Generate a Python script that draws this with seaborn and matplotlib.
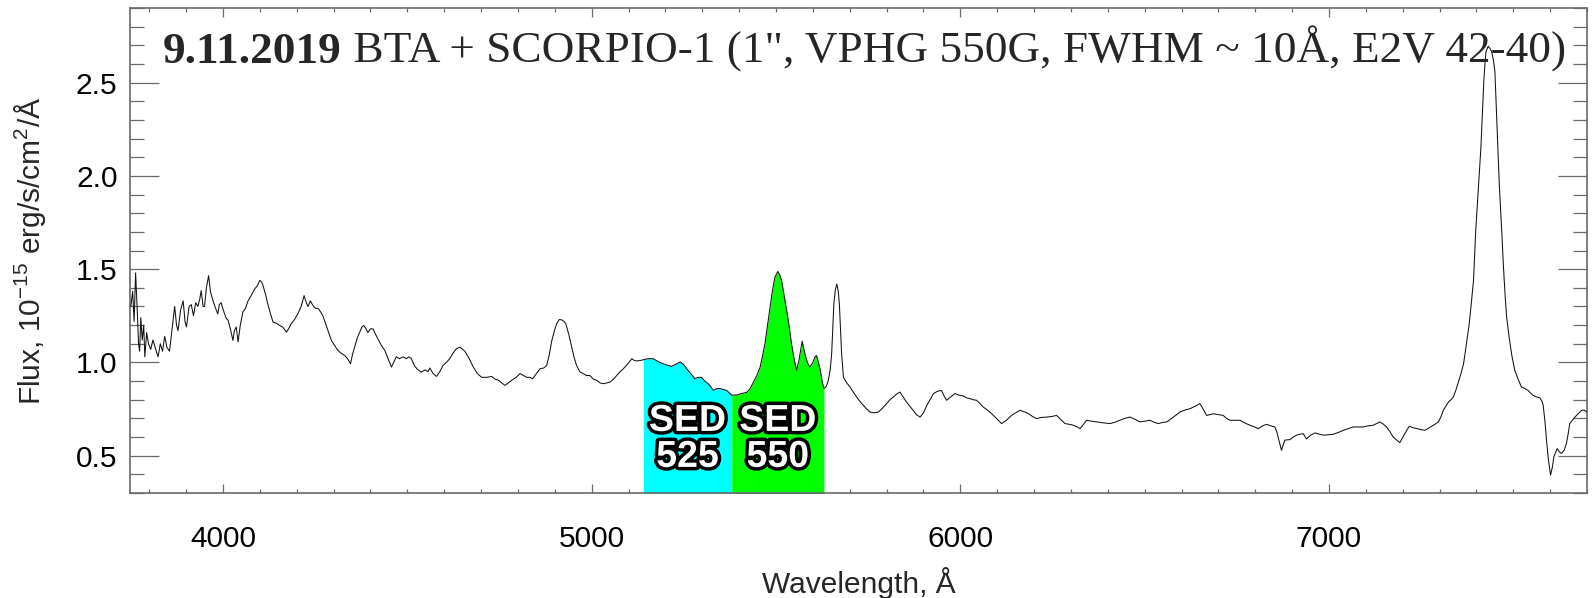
import numpy as np
import pandas as pd
import matplotlib
matplotlib.use("Agg")
import matplotlib.pyplot as plt
import matplotlib.patheffects as pe
from matplotlib.ticker import MultipleLocator
import seaborn as sns

# Spectrum: wavelength (Angstrom) and flux (1e-15 erg/s/cm^2/A)
wavelength = [
    3750, 3755, 3759, 3763, 3767, 3771, 3774, 3777, 3781, 3785, 3788, 3793, 3798, 3804,
    3810, 3816, 3824, 3830, 3836, 3842, 3848, 3855, 3862, 3869, 3874, 3878, 3885, 3892,
    3897, 3901, 3908, 3914, 3920, 3926, 3932, 3937, 3941, 3946, 3950, 3955, 3961, 3966,
    3973, 3980, 3986, 3990, 3995, 4001, 4008, 4014, 4020, 4027, 4031, 4036, 4041, 4047,
    4054, 4061, 4068, 4077, 4086, 4093, 4100, 4105, 4109, 4116, 4122, 4129, 4136, 4145,
    4154, 4162, 4172, 4178, 4185, 4194, 4203, 4212, 4220, 4226, 4231, 4237, 4244, 4251,
    4258, 4265, 4271, 4278, 4285, 4290, 4294, 4303, 4312, 4320, 4330, 4338, 4346, 4351,
    4357, 4364, 4371, 4377, 4382, 4388, 4393, 4400, 4407, 4414, 4420, 4430, 4439, 4448,
    4457, 4463, 4470, 4479, 4488, 4497, 4504, 4511, 4520, 4529, 4538, 4548, 4556, 4561,
    4570, 4579, 4588, 4597, 4606, 4615, 4624, 4633, 4643, 4650, 4656, 4668, 4679, 4690,
    4702, 4716, 4729, 4738, 4747, 4756, 4765, 4774, 4783, 4795, 4806, 4815, 4824, 4832,
    4840, 4850, 4860, 4870, 4878, 4885, 4892, 4899, 4905, 4912, 4919, 4925, 4930, 4938,
    4946, 4952, 4959, 4968, 4977, 4986, 4995, 5005, 5014, 5023, 5032, 5041, 5050, 5059,
    5068, 5077, 5086, 5097, 5109, 5116, 5122, 5131, 5140, 5153, 5167, 5180, 5194, 5205,
    5217, 5228, 5240, 5249, 5258, 5269, 5280, 5289, 5298, 5307, 5316, 5323, 5330, 5340,
    5348, 5357, 5366, 5380, 5392, 5402, 5412, 5421, 5430, 5439, 5448, 5457, 5464, 5470,
    5477, 5484, 5490, 5497, 5505, 5510, 5515, 5522, 5529, 5536, 5542, 5549, 5556, 5563,
    5571, 5578, 5585, 5592, 5600, 5606, 5610, 5615, 5620, 5625, 5630, 5636, 5642, 5647,
    5651, 5654, 5657, 5661, 5665, 5669, 5672, 5675, 5678, 5683, 5692, 5701, 5710, 5719,
    5728, 5737, 5746, 5755, 5766, 5778, 5789, 5800, 5809, 5818, 5827, 5836, 5845, 5854,
    5863, 5872, 5881, 5891, 5900, 5909, 5918, 5927, 5938, 5949, 5956, 5963, 5974, 5985,
    5996, 6008, 6017, 6026, 6035, 6044, 6053, 6062, 6073, 6085, 6098, 6112, 6125, 6139,
    6150, 6162, 6174, 6185, 6196, 6207, 6220, 6234, 6248, 6261, 6272, 6284, 6296, 6307,
    6316, 6325, 6334, 6343, 6356, 6370, 6388, 6406, 6420, 6433, 6446, 6460, 6474, 6487,
    6500, 6514, 6525, 6537, 6548, 6560, 6570, 6578, 6587, 6596, 6610, 6623, 6637, 6650,
    6660, 6668, 6677, 6686, 6700, 6713, 6722, 6731, 6745, 6758, 6772, 6786, 6797, 6808,
    6820, 6831, 6842, 6853, 6858, 6862, 6867, 6871, 6876, 6880, 6887, 6894, 6903, 6912,
    6921, 6930, 6939, 6950, 6962, 6974, 6985, 6998, 7012, 7026, 7039, 7052, 7066, 7080,
    7093, 7106, 7120, 7129, 7138, 7147, 7156, 7165, 7174, 7183, 7192, 7199, 7206, 7212,
    7218, 7228, 7238, 7249, 7260, 7272, 7283, 7290, 7297, 7304, 7310, 7317, 7324, 7331,
    7337, 7344, 7351, 7358, 7365, 7370, 7374, 7380, 7385, 7392, 7398, 7405, 7412, 7416,
    7420, 7423, 7426, 7432, 7436, 7441, 7446, 7450, 7455, 7462, 7469, 7473, 7478, 7482,
    7489, 7496, 7504, 7513, 7522, 7531, 7540, 7547, 7554, 7563, 7572, 7578, 7581, 7586,
    7590, 7595, 7601, 7606, 7610, 7615, 7619, 7625, 7631, 7638, 7644, 7649, 7653, 7660,
    7667, 7676, 7685, 7692, 7699,
]
flux = [
    1.30, 1.38, 1.22, 1.48, 1.30, 1.10, 1.06, 1.24, 1.12, 1.20, 1.03, 1.16, 1.10, 1.07,
    1.12, 1.08, 1.03, 1.10, 1.06, 1.14, 1.08, 1.06, 1.18, 1.30, 1.20, 1.17, 1.28, 1.33,
    1.22, 1.19, 1.30, 1.31, 1.25, 1.32, 1.30, 1.34, 1.385, 1.30, 1.30, 1.40, 1.465, 1.38,
    1.33, 1.29, 1.26, 1.31, 1.32, 1.28, 1.24, 1.225, 1.18, 1.118, 1.17, 1.19, 1.11, 1.20,
    1.27, 1.29, 1.33, 1.36, 1.394, 1.41, 1.44, 1.43, 1.41, 1.36, 1.31, 1.26, 1.215, 1.21,
    1.198, 1.19, 1.162, 1.18, 1.207, 1.23, 1.26, 1.30, 1.358, 1.32, 1.30, 1.33, 1.305, 1.29,
    1.29, 1.27, 1.25, 1.21, 1.17, 1.14, 1.118, 1.09, 1.064, 1.05, 1.037, 1.02, 0.993, 1.04,
    1.082, 1.13, 1.162, 1.19, 1.198, 1.18, 1.16, 1.18, 1.18, 1.15, 1.127, 1.09, 1.064, 1.02,
    0.975, 1.00, 1.03, 1.02, 1.03, 1.02, 1.03, 1.02, 0.98, 0.96, 0.948, 0.96, 0.95, 0.97,
    0.94, 0.925, 0.95, 0.984, 1.00, 1.02, 1.05, 1.073, 1.082, 1.07, 1.06, 1.02, 0.975, 0.94,
    0.92, 0.92, 0.925, 0.91, 0.905, 0.89, 0.877, 0.89, 0.904, 0.92, 0.94, 0.93, 0.92, 0.92,
    0.913, 0.94, 0.966, 0.97, 0.984, 1.04, 1.118, 1.17, 1.207, 1.23, 1.228, 1.22, 1.207, 1.15,
    1.082, 1.03, 0.984, 0.95, 0.94, 0.93, 0.93, 0.91, 0.904, 0.89, 0.886, 0.89, 0.895, 0.91,
    0.93, 0.95, 0.966, 0.99, 1.02, 1.01, 1.008, 1.01, 1.014, 1.02, 1.02, 1.005, 0.993, 0.985,
    0.979, 0.99, 1.002, 0.99, 0.966, 0.94, 0.913, 0.92, 0.92, 0.90, 0.886, 0.87, 0.85, 0.86,
    0.86, 0.855, 0.85, 0.825, 0.825, 0.83, 0.835, 0.84, 0.86, 0.895, 0.93, 0.975, 1.04, 1.10,
    1.20, 1.296, 1.38, 1.456, 1.488, 1.47, 1.44, 1.36, 1.278, 1.19, 1.10, 1.02, 0.957, 1.02,
    1.114, 1.05, 1.00, 0.975, 1.00, 1.03, 1.037, 1.00, 0.96, 0.90, 0.86, 0.87, 0.904, 0.96,
    1.046, 1.18, 1.314, 1.39, 1.42, 1.38, 1.31, 1.18, 1.046, 0.92, 0.89, 0.868, 0.84, 0.814,
    0.79, 0.77, 0.75, 0.734, 0.73, 0.734, 0.755, 0.779, 0.80, 0.814, 0.83, 0.841, 0.815, 0.788,
    0.765, 0.743, 0.72, 0.707, 0.73, 0.77, 0.80, 0.833, 0.845, 0.85, 0.82, 0.797, 0.815, 0.833,
    0.825, 0.82, 0.81, 0.806, 0.80, 0.797, 0.78, 0.761, 0.745, 0.725, 0.70, 0.672, 0.69, 0.716,
    0.73, 0.743, 0.735, 0.725, 0.71, 0.699, 0.705, 0.707, 0.71, 0.716, 0.695, 0.672, 0.668, 0.663,
    0.655, 0.645, 0.668, 0.69, 0.685, 0.681, 0.676, 0.672, 0.68, 0.69, 0.70, 0.707, 0.695, 0.681,
    0.685, 0.69, 0.68, 0.672, 0.678, 0.681, 0.695, 0.707, 0.72, 0.734, 0.745, 0.752, 0.765, 0.779,
    0.745, 0.716, 0.72, 0.725, 0.72, 0.716, 0.70, 0.69, 0.69, 0.69, 0.675, 0.663, 0.655, 0.645,
    0.66, 0.668, 0.66, 0.654, 0.63, 0.60, 0.56, 0.529, 0.56, 0.583, 0.585, 0.586, 0.60, 0.61,
    0.615, 0.618, 0.59, 0.61, 0.622, 0.615, 0.61, 0.612, 0.615, 0.625, 0.636, 0.645, 0.654, 0.654,
    0.654, 0.66, 0.663, 0.672, 0.681, 0.67, 0.654, 0.63, 0.60, 0.585, 0.57, 0.595, 0.619, 0.64,
    0.658, 0.65, 0.645, 0.64, 0.636, 0.65, 0.663, 0.672, 0.681, 0.71, 0.743, 0.765, 0.788, 0.80,
    0.814, 0.85, 0.895, 0.94, 0.993, 1.06, 1.118, 1.20, 1.296, 1.44, 1.706, 1.93, 2.15, 2.33,
    2.51, 2.60, 2.668, 2.695, 2.685, 2.668, 2.62, 2.56, 2.30, 1.95, 1.688, 1.52, 1.35, 1.24,
    1.13, 1.037, 0.957, 0.91, 0.868, 0.86, 0.85, 0.835, 0.823, 0.815, 0.81, 0.79, 0.77, 0.68,
    0.583, 0.48, 0.396, 0.44, 0.494, 0.52, 0.538, 0.52, 0.512, 0.53, 0.565, 0.62, 0.672, 0.69,
    0.707, 0.725, 0.743, 0.745, 0.734,
]

# Photometric SED filter bands (Angstrom) and their colours
band_names = ["SED\n525", "SED\n550"]
band_edges = [(5140, 5380), (5380, 5630)]
band_colors = ["#00FFFF", "#00FF00"]

x_ticks = [4000, 5000, 6000, 7000]
y_ticks = [0.5, 1.0, 1.5, 2.0, 2.5]

df = pd.DataFrame({"wavelength": wavelength, "flux": flux})

sns.set_style("ticks")
plt.rcParams["font.family"] = ["Liberation Sans", "DejaVu Sans"]
plt.rcParams["mathtext.default"] = "regular"

fig = plt.figure(figsize=(15.96, 5.98), dpi=100)
ax = fig.add_axes([0.0815, 0.1756, 0.9129, 0.8110])

ymin, ymax = 0.3, 2.9
label_size = 21.5

# Filled filter bands under the spectrum
wl = df["wavelength"].to_numpy()
fx = df["flux"].to_numpy()
for (lo, hi), col in zip(band_edges, band_colors):
    m = (wl >= lo) & (wl <= hi)
    ax.fill_between(wl[m], ymin - 1, fx[m], color=col, linewidth=0, zorder=1)

sns.lineplot(data=df, x="wavelength", y="flux", color="#111111", linewidth=0.75,
             estimator=None, sort=False, ax=ax, zorder=3)

# Band labels: white bold text with black outline
for name, (lo, hi) in zip(band_names, band_edges):
    ax.text((lo + hi) / 2, 0.59, name, ha="center", va="center",
            fontsize=27, fontweight="bold", color="white", linespacing=1.0,
            family=["Liberation Sans", "DejaVu Sans"], zorder=4,
            path_effects=[pe.withStroke(linewidth=5, foreground="black")])

ax.set_xlim(3748, 7700)
ax.set_ylim(ymin, ymax)
ax.set_xticks(x_ticks)
ax.set_yticks(y_ticks)
ax.xaxis.set_minor_locator(MultipleLocator(100))
ax.yaxis.set_minor_locator(MultipleLocator(0.1))
ax.set_xticklabels([str(t) for t in x_ticks])
ax.set_yticklabels([f"{t:.1f}" for t in y_ticks])

axis_grey = "#6a6a6a"
for s in ax.spines.values():
    s.set_color(axis_grey)
    s.set_linewidth(1.2)

ax.tick_params(axis="both", which="both", direction="in", top=True, right=True,
               color=axis_grey, width=0.9, labelsize=label_size, labelcolor="black")
ax.tick_params(axis="x", which="major", length=6.5, pad=23)
ax.tick_params(axis="x", which="minor", length=3)
ax.tick_params(axis="y", which="major", length=21, pad=9)
ax.tick_params(axis="y", which="minor", length=10)

ax.set_xlabel("Wavelength, Å", fontsize=label_size, labelpad=10)
ax.set_ylabel("Flux, 10$^{-15}$ erg/s/cm$^2$/Å", fontsize=label_size, labelpad=20)

# Observation header: bold date followed by instrument setup
serif = ["Liberation Serif", "DejaVu Serif"]
t1 = ax.text(0.0226, 0.8866, "9.11.2019", transform=ax.transAxes, ha="left",
             va="baseline", fontsize=32.6, fontweight="bold", family=serif, zorder=5)
ax.annotate(" BTA + SCORPIO-1 (1\", VPHG 550G, FWHM ~ 10Å, E2V 42-40)",
            xy=(1, 0), xycoords=t1, ha="left", va="bottom", fontsize=32.6,
            family=serif, zorder=5)

fig.savefig("out.png", dpi=100)
